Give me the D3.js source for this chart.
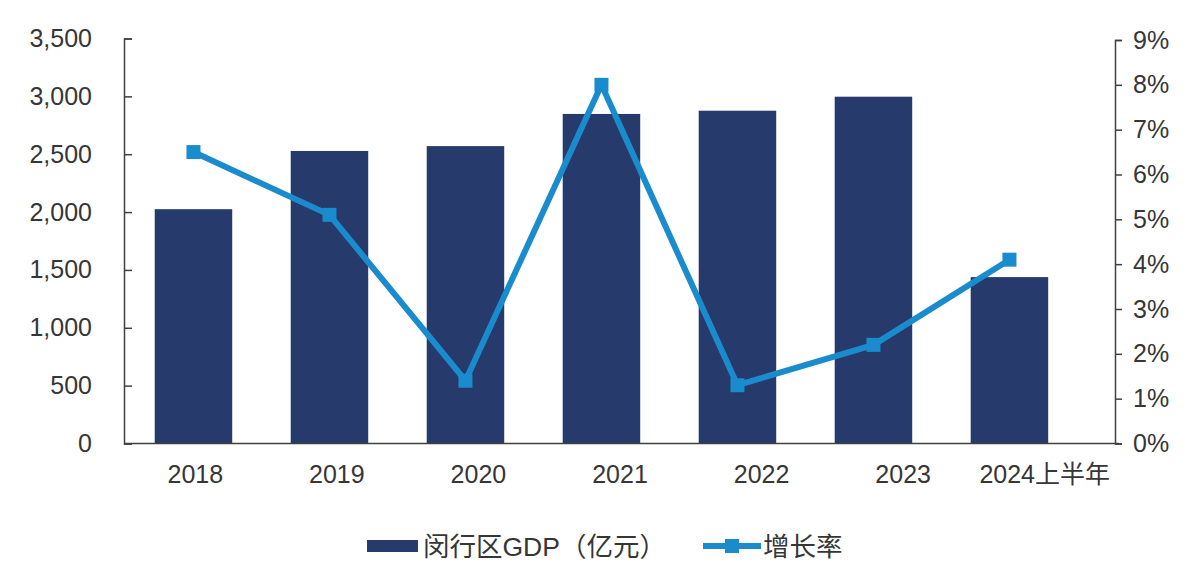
<!DOCTYPE html>
<html>
<head>
<meta charset="utf-8">
<script src="https://cdn.jsdelivr.net/npm/d3@7"></script>
<style>
  html, body { margin: 0; padding: 0; background: #ffffff; }
  svg { display: block; }
  text { font-family: "Liberation Sans", Arial, "Noto Sans CJK SC", sans-serif; fill: #363636; }
</style>
</head>
<body>
<svg id="chart" width="1191" height="567"></svg>
<script>
// Minhang District GDP (100 million yuan) and growth rate
const categories = ["2018", "2019", "2020", "2021", "2022", "2023", "2024上半年"];
const gdpValues = [2025, 2528, 2570, 2848, 2876, 2997, 1438];
const growthValues = [6.5, 5.1, 1.4, 8.0, 1.3, 2.2, 4.1];
const leftTicks = [0, 500, 1000, 1500, 2000, 2500, 3000, 3500];
const rightTicks = [0, 1, 2, 3, 4, 5, 6, 7, 8, 9];
const legendLabels = ["闵行区GDP（亿元）", "增长率"];

const barColor = "#263b6c";
const lineColor = "#1a8bcc";
const axisColor = "#404040";

const svg = d3.select("#chart");
const plotLeft = 124, plotRight = 1115, plotBottom = 443.5;

// band scale for the bars and line markers
const x = d3.scaleBand()
  .domain(categories)
  .range([plotLeft, plotRight])
  .paddingInner(0.43)
  .paddingOuter(0.3585)
  .align(0.315);

// evenly spaced positions for the category labels
const xLabels = d3.scalePoint()
  .domain(categories)
  .range([plotLeft, plotRight])
  .padding(0.5);

const yLeft = d3.scaleLinear().domain([0, 3500]).range([plotBottom, 38.5]);
const yRight = d3.scaleLinear().domain([0, 9]).range([plotBottom, 40]);

// bars
svg.append("g").selectAll("rect")
  .data(categories.map((c, i) => ({ c, v: gdpValues[i] })))
  .join("rect")
  .attr("x", d => x(d.c))
  .attr("width", x.bandwidth())
  .attr("y", d => yLeft(d.v))
  .attr("height", d => yLeft(0) - yLeft(d.v))
  .attr("fill", barColor);

// left axis
const leftAxis = d3.axisLeft(yLeft)
  .tickValues(leftTicks)
  .tickFormat(d3.format(","))
  .tickSizeInner(-8)
  .tickSizeOuter(-8)
  .tickPadding(32);
const gl = svg.append("g").attr("transform", `translate(${plotLeft},0)`).call(leftAxis);
gl.selectAll("path, line").attr("stroke", axisColor).attr("stroke-width", 1.5);
gl.selectAll("text").attr("font-size", 25).style("fill", "#363636")
  .attr("font-family", "'Liberation Sans', Arial, sans-serif");

// right axis
const rightAxis = d3.axisRight(yRight)
  .tickValues(rightTicks)
  .tickFormat(d => d + "%")
  .tickSizeInner(7)
  .tickSizeOuter(7)
  .tickPadding(11);
const gr = svg.append("g").attr("transform", `translate(${plotRight},0)`).call(rightAxis);
gr.selectAll("path, line").attr("stroke", axisColor).attr("stroke-width", 1.5);
gr.selectAll("text").attr("font-size", 25).style("fill", "#363636")
  .attr("font-family", "'Liberation Sans', Arial, sans-serif");

// bottom axis
const bottomAxis = d3.axisBottom(xLabels).tickSize(0).tickPadding(22);
const gb = svg.append("g").attr("transform", `translate(0,${plotBottom})`).call(bottomAxis);
gb.select("path").attr("stroke", axisColor).attr("stroke-width", 1.5)
  .attr("d", `M${plotLeft},0H${plotRight + 4}`);
gb.selectAll("text").attr("font-size", 25).style("fill", "#363636");

// growth line
const cx = c => x(c) + x.bandwidth() / 2;
const lineData = categories.map((c, i) => ({ c, v: growthValues[i] }));
svg.append("path")
  .datum(lineData)
  .attr("fill", "none")
  .attr("stroke", lineColor)
  .attr("stroke-width", 6)
  .attr("stroke-linejoin", "miter")
  .attr("d", d3.line().x(d => cx(d.c)).y(d => yRight(d.v)));

const mk = 14;
svg.append("g").selectAll("rect")
  .data(lineData)
  .join("rect")
  .attr("x", d => cx(d.c) - mk / 2)
  .attr("y", d => yRight(d.v) - mk / 2)
  .attr("width", mk)
  .attr("height", mk)
  .attr("fill", lineColor);

// legend
const lg = svg.append("g");
const ly = 546;
lg.append("rect").attr("x", 367).attr("y", ly - 6).attr("width", 51).attr("height", 12).attr("fill", barColor);
lg.append("text").attr("x", 423).attr("y", ly).attr("dy", "0.36em")
  .attr("font-size", 26.5).text(legendLabels[0]);
lg.append("line").attr("x1", 703).attr("x2", 761).attr("y1", ly).attr("y2", ly)
  .attr("stroke", lineColor).attr("stroke-width", 6);
lg.append("rect").attr("x", 732 - mk / 2).attr("y", ly - mk / 2).attr("width", mk).attr("height", mk)
  .attr("fill", lineColor);
lg.append("text").attr("x", 763).attr("y", ly).attr("dy", "0.36em")
  .attr("font-size", 26.5).text(legendLabels[1]);
</script>
</body>
</html>
